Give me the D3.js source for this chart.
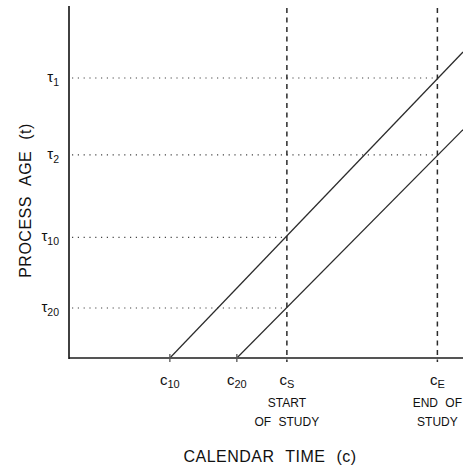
<!DOCTYPE html>
<html>
<head>
<meta charset="utf-8">
<script src="https://cdn.jsdelivr.net/npm/d3@7/dist/d3.min.js"></script>
<style>
  html, body { margin: 0; padding: 0; background: #fff; }
  svg { display: block; font-family: "Liberation Sans", Arial, Helvetica, sans-serif; }
</style>
</head>
<body>
<svg id="chart" width="463" height="468"></svg>
<script>
// Calendar-time markers on the horizontal axis (c)
const calendarLabels = ["c", "c", "c", "c"];
const calendarSubs   = ["10", "20", "S", "E"];
const calendarValues = [25.6, 42.6, 55.3, 93.5];
const calendarKinds  = ["entry", "entry", "study", "study"];
const calendarNotes  = [[], [], ["START", "OF STUDY"], ["END OF", "STUDY"]];

// Two process trajectories: entry time and the age reached at the end of the time window
const cohortStarts  = [25.6, 42.6];
const cohortEndAges = [74.1, 55.3];

// Process-age reference levels (t); each guide runs to the study marker where a trajectory reaches it
const ageLabels  = ["1", "2", "10", "20"];
const ageValues  = [67.8, 49.2, 29.2, 12.1];
const ageUntil   = [93.5, 93.5, 55.3, 55.3];

const svg = d3.select("#chart");
const margin = { left: 69, right: 0, top: 7, bottom: 110 };
const W = 463, H = 468;

const x = d3.scaleLinear().domain([0, 100]).range([margin.left, W - margin.right]);
const y = d3.scaleLinear().domain([0, 85]).range([H - margin.bottom, margin.top]);

const ink = "#2b2b2b";

// dotted horizontal guides from the age axis
const guides = svg.append("g");
ageValues.forEach((t, i) => {
  guides.append("line")
    .attr("x1", x(0) + 3).attr("x2", x(ageUntil[i]))
    .attr("y1", y(t)).attr("y2", y(t))
    .attr("stroke", "#444").attr("stroke-width", 1.1)
    .attr("stroke-dasharray", "1.2,4.6");
});

// dashed verticals at the start and end of the study
calendarValues.forEach((c, i) => {
  if (calendarKinds[i] !== "study") return;
  svg.append("line")
    .attr("x1", x(c)).attr("x2", x(c))
    .attr("y1", y(85) + 1).attr("y2", y(0) + 4)
    .attr("stroke", ink).attr("stroke-width", 1.5)
    .attr("stroke-dasharray", "5,4.5");
});

// trajectories from entry (age 0) to the right edge of the window
const line = d3.line().x(d => x(d[0])).y(d => y(d[1]));
cohortStarts.forEach((c0, i) => {
  svg.append("path")
    .datum([[c0, 0], [x.domain()[1], cohortEndAges[i]]])
    .attr("d", line)
    .attr("fill", "none")
    .attr("stroke", ink).attr("stroke-width", 1.2);
});

// axes
svg.append("line")
  .attr("x1", x(0)).attr("x2", x(100))
  .attr("y1", y(0)).attr("y2", y(0))
  .attr("stroke", "#555").attr("stroke-width", 1.8);
svg.append("line")
  .attr("x1", x(0)).attr("x2", x(0))
  .attr("y1", y(85) - 1).attr("y2", y(0) + 1)
  .attr("stroke", "#111").attr("stroke-width", 1.6);

// tick marks at entry times
calendarValues.forEach((c, i) => {
  if (calendarKinds[i] !== "entry") return;
  svg.append("line")
    .attr("x1", x(c)).attr("x2", x(c))
    .attr("y1", y(0) - 4).attr("y2", y(0) + 4)
    .attr("stroke", "#555").attr("stroke-width", 1.3);
});

// calendar labels with subscripts
const calG = svg.append("g").attr("fill", "#111");
calendarValues.forEach((c, i) => {
  const t = calG.append("text")
    .attr("x", x(c)).attr("y", 385)
    .attr("text-anchor", "middle")
    .attr("font-size", 15);
  t.append("tspan").text(calendarLabels[i]);
  t.append("tspan").attr("font-size", 11).attr("dy", 3).text(calendarSubs[i]);
  calendarNotes[i].forEach((note, k) => {
    calG.append("text")
      .attr("x", x(c)).attr("y", 407 + k * 19)
      .attr("text-anchor", "middle")
      .attr("font-size", 12)
      .style("word-spacing", "4px")
      .text(note);
  });
});

// age labels with subscripts
ageValues.forEach((t, i) => {
  const lab = svg.append("text")
    .attr("x", 59).attr("y", y(t) + 4)
    .attr("text-anchor", "end")
    .attr("fill", "#111")
    .attr("font-size", 15);
  lab.append("tspan").text("τ");
  lab.append("tspan").attr("font-size", 10.5).attr("dy", 4).text(ageLabels[i]);
});

// axis titles
svg.append("text")
  .attr("x", 270).attr("y", 462)
  .attr("text-anchor", "middle")
  .attr("font-size", 16)
  .attr("fill", "#111")
  .style("letter-spacing", "0.5px")
  .style("word-spacing", "6px")
  .text("CALENDAR TIME (c)");

svg.append("text")
  .attr("transform", `translate(31,${(y(0) + y(85)) / 2 + 18}) rotate(-90)`)
  .attr("text-anchor", "middle")
  .attr("font-size", 16)
  .attr("fill", "#111")
  .style("letter-spacing", "0.5px")
  .style("word-spacing", "6px")
  .text("PROCESS AGE (t)");
</script>
</body>
</html>
